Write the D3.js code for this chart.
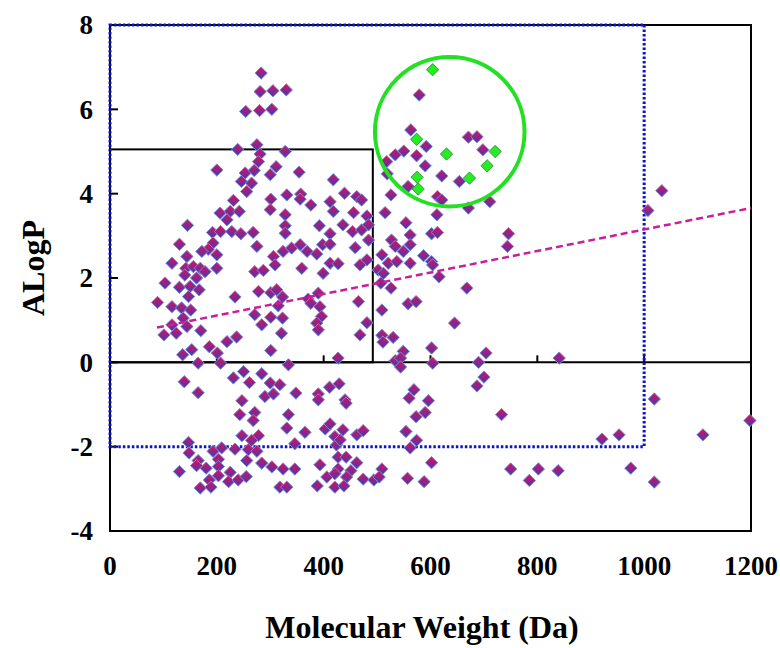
<!DOCTYPE html>
<html>
<head>
<meta charset="utf-8">
<script src="https://cdn.jsdelivr.net/npm/d3@7"></script>
<style>
  body { margin: 0; background: #fff; }
  text { font-family: "Liberation Serif", "Times New Roman", serif; font-weight: bold; fill: #000; }
</style>
</head>
<body>
<svg id="chart" width="780" height="648"></svg>
<script>
// compounds: [molecular weight (Da), ALogP]
const compounds = [
  [283,6.86],[281,6.42],[305,6.44],[330,6.46],[254,5.95],[280,5.97],[303,6.00],[239,5.05],[275,5.16],[281,4.94],
  [328,5.00],[278,4.76],[311,4.64],[200,4.56],[253,4.49],[270,4.55],[354,4.51],[246,4.29],[265,4.25],[300,4.45],
  [256,4.05],[418,4.33],[331,3.97],[357,3.99],[356,3.87],[439,4.01],[462,3.93],[471,3.85],[231,3.84],[301,3.87],
  [376,3.73],[412,3.81],
  [206,3.54],[225,3.58],[242,3.58],[219,3.38],[300,3.62],[328,3.50],[418,3.58],[456,3.55],[481,3.47],[515,3.55],
  [145,3.25],[192,3.08],[207,3.10],[228,3.10],[245,3.05],[268,3.08],[328,3.24],[328,3.06],[392,3.24],[412,3.05],
  [436,3.26],[454,3.10],[471,3.14],[484,3.26],
  [130,2.80],[193,2.83],[275,2.75],[184,2.68],[172,2.63],[200,2.55],[144,2.51],[306,2.51],[324,2.63],[340,2.71],
  [356,2.79],[369,2.63],[387,2.57],[398,2.79],[412,2.80],[459,2.72],[481,2.43],
  [116,2.35],[142,2.23],[156,2.27],[169,2.23],[140,2.07],[162,2.00],[178,2.15],[200,2.23],[271,2.15],[287,2.18],
  [309,2.31],[359,2.23],[399,2.11],[412,2.35],[427,2.34],[468,2.31],
  [103,1.88],[130,1.78],[150,1.80],[147,1.56],[167,1.72],[234,1.55],[278,1.68],[301,1.65],[312,1.72],[323,1.55],
  [371,1.50],[390,1.64],[465,1.44],
  [89,1.42],[116,1.32],[134,1.29],[151,1.24],[315,1.34],[376,1.40],[393,1.32],
  [137,1.05],[271,1.13],[301,1.07],[323,1.05],[396,1.09],[509,1.24],
  [116,0.89],[144,0.85],[284,0.89],[387,0.93],[481,0.94],
  [101,0.65],[124,0.69],[170,0.75],[321,0.69],[390,0.77],[468,0.65],[509,0.64],[530,0.59],[511,0.48],
  [136,0.18],[153,0.30],[186,0.37],[201,0.22],[219,0.49],[237,0.60],[301,0.28],[427,0.10],
  [165,-0.02],[207,-0.02],[334,-0.06],
  [746,3.05],[744,2.75],[562,3.02],[602,3.05],[613,3.08],[527,2.90],[534,2.75],[549,2.63],[562,2.79],[509,2.55],
  [521,2.35],[537,2.39],[562,2.35],[587,2.53],[602,2.39],[604,2.31],[502,2.19],[512,2.11],[616,2.03],[507,1.88],
  [526,1.76],[668,1.76],[484,2.90],
  [558,1.39],[573,1.44],[645,0.93],[549,0.26],[602,0.34],[704,0.22],[534,0.04],[544,0.10],[544,-0.11],[604,-0.02],
  [690,0.00],[841,0.10],
  [700,-0.35],[687,-0.56],[569,-0.65],[560,-0.85],[596,-0.91],[573,-1.29],[590,-1.19],[733,-1.24],[554,-1.64],
  [574,-1.85],[562,-2.03],[602,-2.38],[557,-2.75],[588,-2.83],[750,-2.53],[802,-2.53],[785,-2.80],[839,-2.57],
  [579,6.34],[563,5.51],[671,5.34],[687,5.35],[592,5.12],[550,5.01],[534,4.92],[574,4.90],[698,5.04],[590,4.66],
  [518,4.76],[519,4.47],[621,4.42],[654,4.29],[558,4.17],[526,3.97],[613,3.93],[621,3.85],[711,3.81],[671,3.66],
  [612,3.50],[554,3.31],
  [1033,4.07],[1007,3.60],[1019,-0.87],[921,-1.82],[953,-1.72],[1110,-1.72],[1198,-1.38],[975,-2.51],[1019,-2.84],
  [139,-0.46],[165,-0.72],[231,-0.37],[250,-0.22],[261,-0.48],[284,-0.27],[300,-0.49],[318,-0.53],[290,-0.81],
  [306,-0.75],[348,-0.73],[390,-0.75],[390,-0.89],[411,-0.59],[429,-0.51],[440,-0.89],[442,-0.97],
  [247,-0.91],[243,-1.24],[271,-1.19],[268,-1.38],[334,-1.24],[331,-1.56],[365,-1.66],[247,-1.74],[278,-1.74],
  [265,-1.85],[346,-1.93],[403,-1.58],[412,-1.46],[421,-1.76],[436,-1.60],[462,-1.72],[474,-1.62],[424,-1.96],
  [431,-1.84],
  [147,-1.90],[148,-2.15],[193,-2.11],[209,-2.03],[234,-2.06],[259,-2.07],[275,-2.11],[203,-2.30],[165,-2.33],
  [256,-2.33],[427,-2.25],[442,-2.25],
  [130,-2.59],[180,-2.51],[162,-2.45],[203,-2.47],[284,-2.39],[303,-2.48],[324,-2.53],[346,-2.53],[393,-2.43],
  [427,-2.53],[451,-2.57],[462,-2.38],[509,-2.53],
  [225,-2.61],[203,-2.69],[186,-2.79],[222,-2.83],[240,-2.79],[255,-2.71],[406,-2.72],[421,-2.64],[443,-2.72],
  [474,-2.77],[494,-2.79],[504,-2.72],
  [169,-2.98],[189,-2.96],[318,-2.96],[331,-2.96],[388,-2.93],[421,-2.96],[438,-2.93]
]

// highlighted compounds inside the green circle
const highlighted = [
  [604,6.94],[574,5.29],[630,4.94],[721,5.00],[706,4.66],[673,4.37],[575,4.39],[577,4.11]
]

const xTicks = [0, 200, 400, 600, 800, 1000, 1200]
const yTicks = [-4, -2, 0, 2, 4, 6, 8]

// rule-of-five box, drug-like region, trend line, circle
const ruleBox = {mw: 492, logp: 5.05}
const dotBox = {mw: 1000, logpMin: -2, logpMax: 8}
const trend = {from: 88, to: 1200, intercept: 0.6, slope: 0.00255}
const circle = {mw: 636, logp: 5.47, r: 140}

const svg = d3.select('#chart')
const x = d3.scaleLinear().domain([0, 1200]).range([110, 751])
const y = d3.scaleLinear().domain([-4, 8]).range([531, 25])

const defs = svg.append('defs')
const grad = defs.append('linearGradient')
    .attr('id', 'dia')
    .attr('x1', 0).attr('y1', 0).attr('x2', 0).attr('y2', 1)
grad.append('stop').attr('offset', '0%').attr('stop-color', '#d8105e')
grad.append('stop').attr('offset', '100%').attr('stop-color', '#4838b0')

const diamond = {
  draw(ctx, size) {
    const r = Math.sqrt(size / 2)
    ctx.moveTo(0, -r); ctx.lineTo(r, 0); ctx.lineTo(0, r); ctx.lineTo(-r, 0); ctx.closePath()
  }
}
const sym = d3.symbol().type(diamond).size(76)

// frame
svg.append('rect')
    .attr('x', x(0)).attr('y', y(8))
    .attr('width', x(1200) - x(0)).attr('height', y(-4) - y(8))
    .attr('fill', 'none').attr('stroke', '#000').attr('stroke-width', 2)

// zero line
svg.append('line')
    .attr('x1', x(0)).attr('x2', x(1200)).attr('y1', y(0)).attr('y2', y(0))
    .attr('stroke', '#000').attr('stroke-width', 2)

// ticks
svg.selectAll('.ytick').data(yTicks.slice(1, -1)).enter().append('line')
    .attr('x1', x(0)).attr('x2', x(0) + 8).attr('y1', d => y(d)).attr('y2', d => y(d))
    .attr('stroke', '#000').attr('stroke-width', 2)
svg.selectAll('.xtick').data(xTicks.slice(1, -1)).enter().append('line')
    .attr('x1', d => x(d)).attr('x2', d => x(d)).attr('y1', y(0)).attr('y2', y(0) - 7)
    .attr('stroke', '#000').attr('stroke-width', 2)

// rule of five box
svg.append('rect')
    .attr('x', x(0)).attr('y', y(ruleBox.logp))
    .attr('width', x(ruleBox.mw) - x(0)).attr('height', y(0) - y(ruleBox.logp))
    .attr('fill', 'none').attr('stroke', '#000').attr('stroke-width', 2)

// blue dotted region
svg.append('path')
    .attr('d', `M${x(dotBox.mw)},${y(dotBox.logpMax)} L${x(dotBox.mw)},${y(dotBox.logpMin)} L${x(0)},${y(dotBox.logpMin)} L${x(0)},${y(dotBox.logpMax)} Z`)
    .attr('fill', 'none').attr('stroke', '#0a14d0').attr('stroke-width', 3)
    .attr('stroke-dasharray', '2.5,2')

// points
svg.append('g').selectAll('path').data(compounds).enter().append('path')
    .attr('transform', d => `translate(${x(d[0])},${y(d[1])})`)
    .attr('d', sym)
    .attr('fill', 'url(#dia)')
    .attr('stroke', '#6f8fe0').attr('stroke-width', 1)

// trend line
svg.append('line')
    .attr('x1', x(trend.from)).attr('y1', y(trend.intercept + trend.slope * trend.from))
    .attr('x2', x(trend.to)).attr('y2', y(trend.intercept + trend.slope * trend.to))
    .attr('stroke', '#c81f9a').attr('stroke-width', 2.5)
    .attr('stroke-dasharray', '7,4')

// highlighted points
svg.append('g').selectAll('path').data(highlighted).enter().append('path')
    .attr('transform', d => `translate(${x(d[0])},${y(d[1])})`)
    .attr('d', sym)
    .attr('fill', '#22ee22')
    .attr('stroke', '#3a7a3a').attr('stroke-width', 0.8)

svg.append('circle')
    .attr('cx', x(circle.mw)).attr('cy', y(circle.logp))
    .attr('r', x(circle.r) - x(0))
    .attr('fill', 'none').attr('stroke', '#22e022').attr('stroke-width', 4)

// tick labels
svg.selectAll('.xlab').data(xTicks).enter().append('text')
    .attr('x', d => x(d)).attr('y', 575)
    .attr('text-anchor', 'middle')
    .style('font-size', '27px')
    .text(d => d)
svg.selectAll('.ylab').data(yTicks).enter().append('text')
    .attr('x', 93).attr('y', d => y(d))
    .attr('dy', '0.35em')
    .attr('text-anchor', 'end')
    .style('font-size', '27px')
    .text(d => d)

// axis titles
svg.append('text')
    .attr('x', 422).attr('y', 638)
    .attr('text-anchor', 'middle')
    .style('font-size', '32px')
    .text('Molecular Weight (Da)')
svg.append('text')
    .attr('transform', 'translate(44,268) rotate(-90)')
    .attr('text-anchor', 'middle')
    .style('font-size', '32px')
    .text('ALogP')
</script>
</body>
</html>
